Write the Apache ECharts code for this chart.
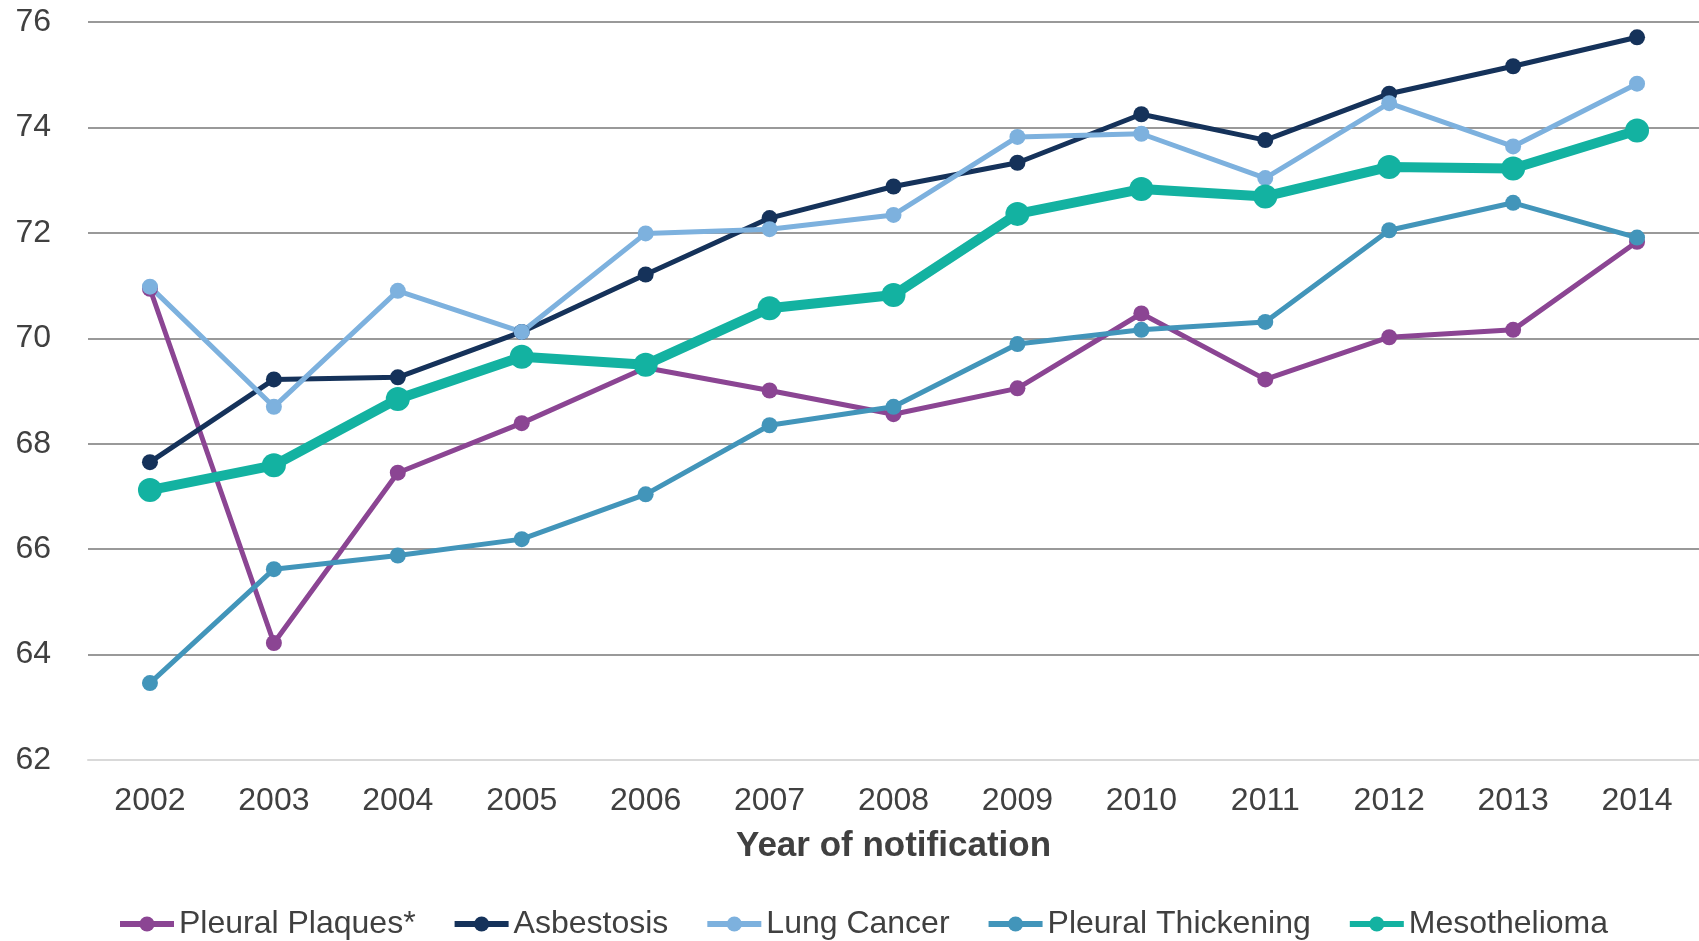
<!DOCTYPE html>
<html>
<head>
<meta charset="utf-8">
<script src="https://cdn.jsdelivr.net/npm/echarts@6/dist/echarts.min.js"></script>
<style>
  html, body { margin: 0; padding: 0; background: #fff; }
  #chart { width: 1699px; height: 941px; }
</style>
</head>
<body>
<div id="chart"></div>
<script>
// years on the x axis
const years = ["2002", "2003", "2004", "2005", "2006", "2007", "2008", "2009", "2010", "2011", "2012", "2013", "2014"];

// average age at notification
const pleuralPlaques = [70.94, 64.22, 67.45, 68.39, 69.44, 69.01, 68.56, 69.05, 70.47, 69.22, 70.02, 70.16, 71.83];
const asbestosis = [67.65, 69.22, 69.26, 70.12, 71.21, 72.28, 72.88, 73.33, 74.25, 73.76, 74.64, 75.16, 75.71];
const lungCancer = [70.98, 68.70, 70.90, 70.12, 71.99, 72.07, 72.34, 73.82, 73.88, 73.04, 74.46, 73.64, 74.83];
const pleuralThickening = [63.46, 65.62, 65.88, 66.19, 67.04, 68.35, 68.70, 69.89, 70.16, 70.31, 72.05, 72.57, 71.91];
const mesothelioma = [67.12, 67.59, 68.85, 69.65, 69.50, 70.57, 70.82, 72.36, 72.83, 72.69, 73.25, 73.22, 73.94];

const yTicks = { min: 62, max: 76, step: 2 };

let myChart = echarts.init(document.getElementById("chart"));

function lineSeries(name, data, color, width, size) {
  return {
    name: name,
    type: "line",
    data: data,
    symbol: "circle",
    symbolSize: size,
    color: color,
    lineStyle: { width: width, color: color },
    itemStyle: { color: color },
    z: name === "Mesothelioma" ? 5 : 3,
  };
}

var option = {
  animation: false,
  textStyle: { fontFamily: "Liberation Sans, Arial, sans-serif" },
  grid: {
    left: 88,
    right: 0,
    top: 22,
    bottom: 181,
  },
  legend: {
    left: 112,
    top: 903,
    itemWidth: 54,
    itemHeight: 19,
    itemGap: 36,
    lineStyle: { width: 6 },
    textStyle: { fontSize: 32, color: "#404040" },
    data: ["Pleural Plaques*", "Asbestosis", "Lung Cancer", "Pleural Thickening", "Mesothelioma"],
  },
  xAxis: {
    type: "category",
    data: years,
    name: "Year of notification",
    nameLocation: "middle",
    nameGap: 69,
    nameTextStyle: { fontSize: 35, fontWeight: "bold", color: "#404040" },
    axisTick: { show: false },
    axisLine: { lineStyle: { color: "#d9d9d9", width: 2 } },
    axisLabel: { fontSize: 32, color: "#404040", margin: 25 },
  },
  yAxis: {
    type: "value",
    min: yTicks.min,
    max: yTicks.max,
    interval: yTicks.step,
    axisLabel: { fontSize: 32, color: "#404040", margin: 37 },
    splitLine: { lineStyle: { color: "#999999", width: 2 } },
    axisLine: { show: false },
    axisTick: { show: false },
  },
  series: [
    lineSeries("Pleural Plaques*", pleuralPlaques, "#8b4593", 5, 16),
    lineSeries("Asbestosis", asbestosis, "#15325a", 5, 16),
    lineSeries("Lung Cancer", lungCancer, "#7db1de", 5, 16),
    lineSeries("Pleural Thickening", pleuralThickening, "#4295ba", 5, 16),
    lineSeries("Mesothelioma", mesothelioma, "#13b2a1", 10, 24),
  ],
};
option && myChart.setOption(option);
</script>
</body>
</html>
